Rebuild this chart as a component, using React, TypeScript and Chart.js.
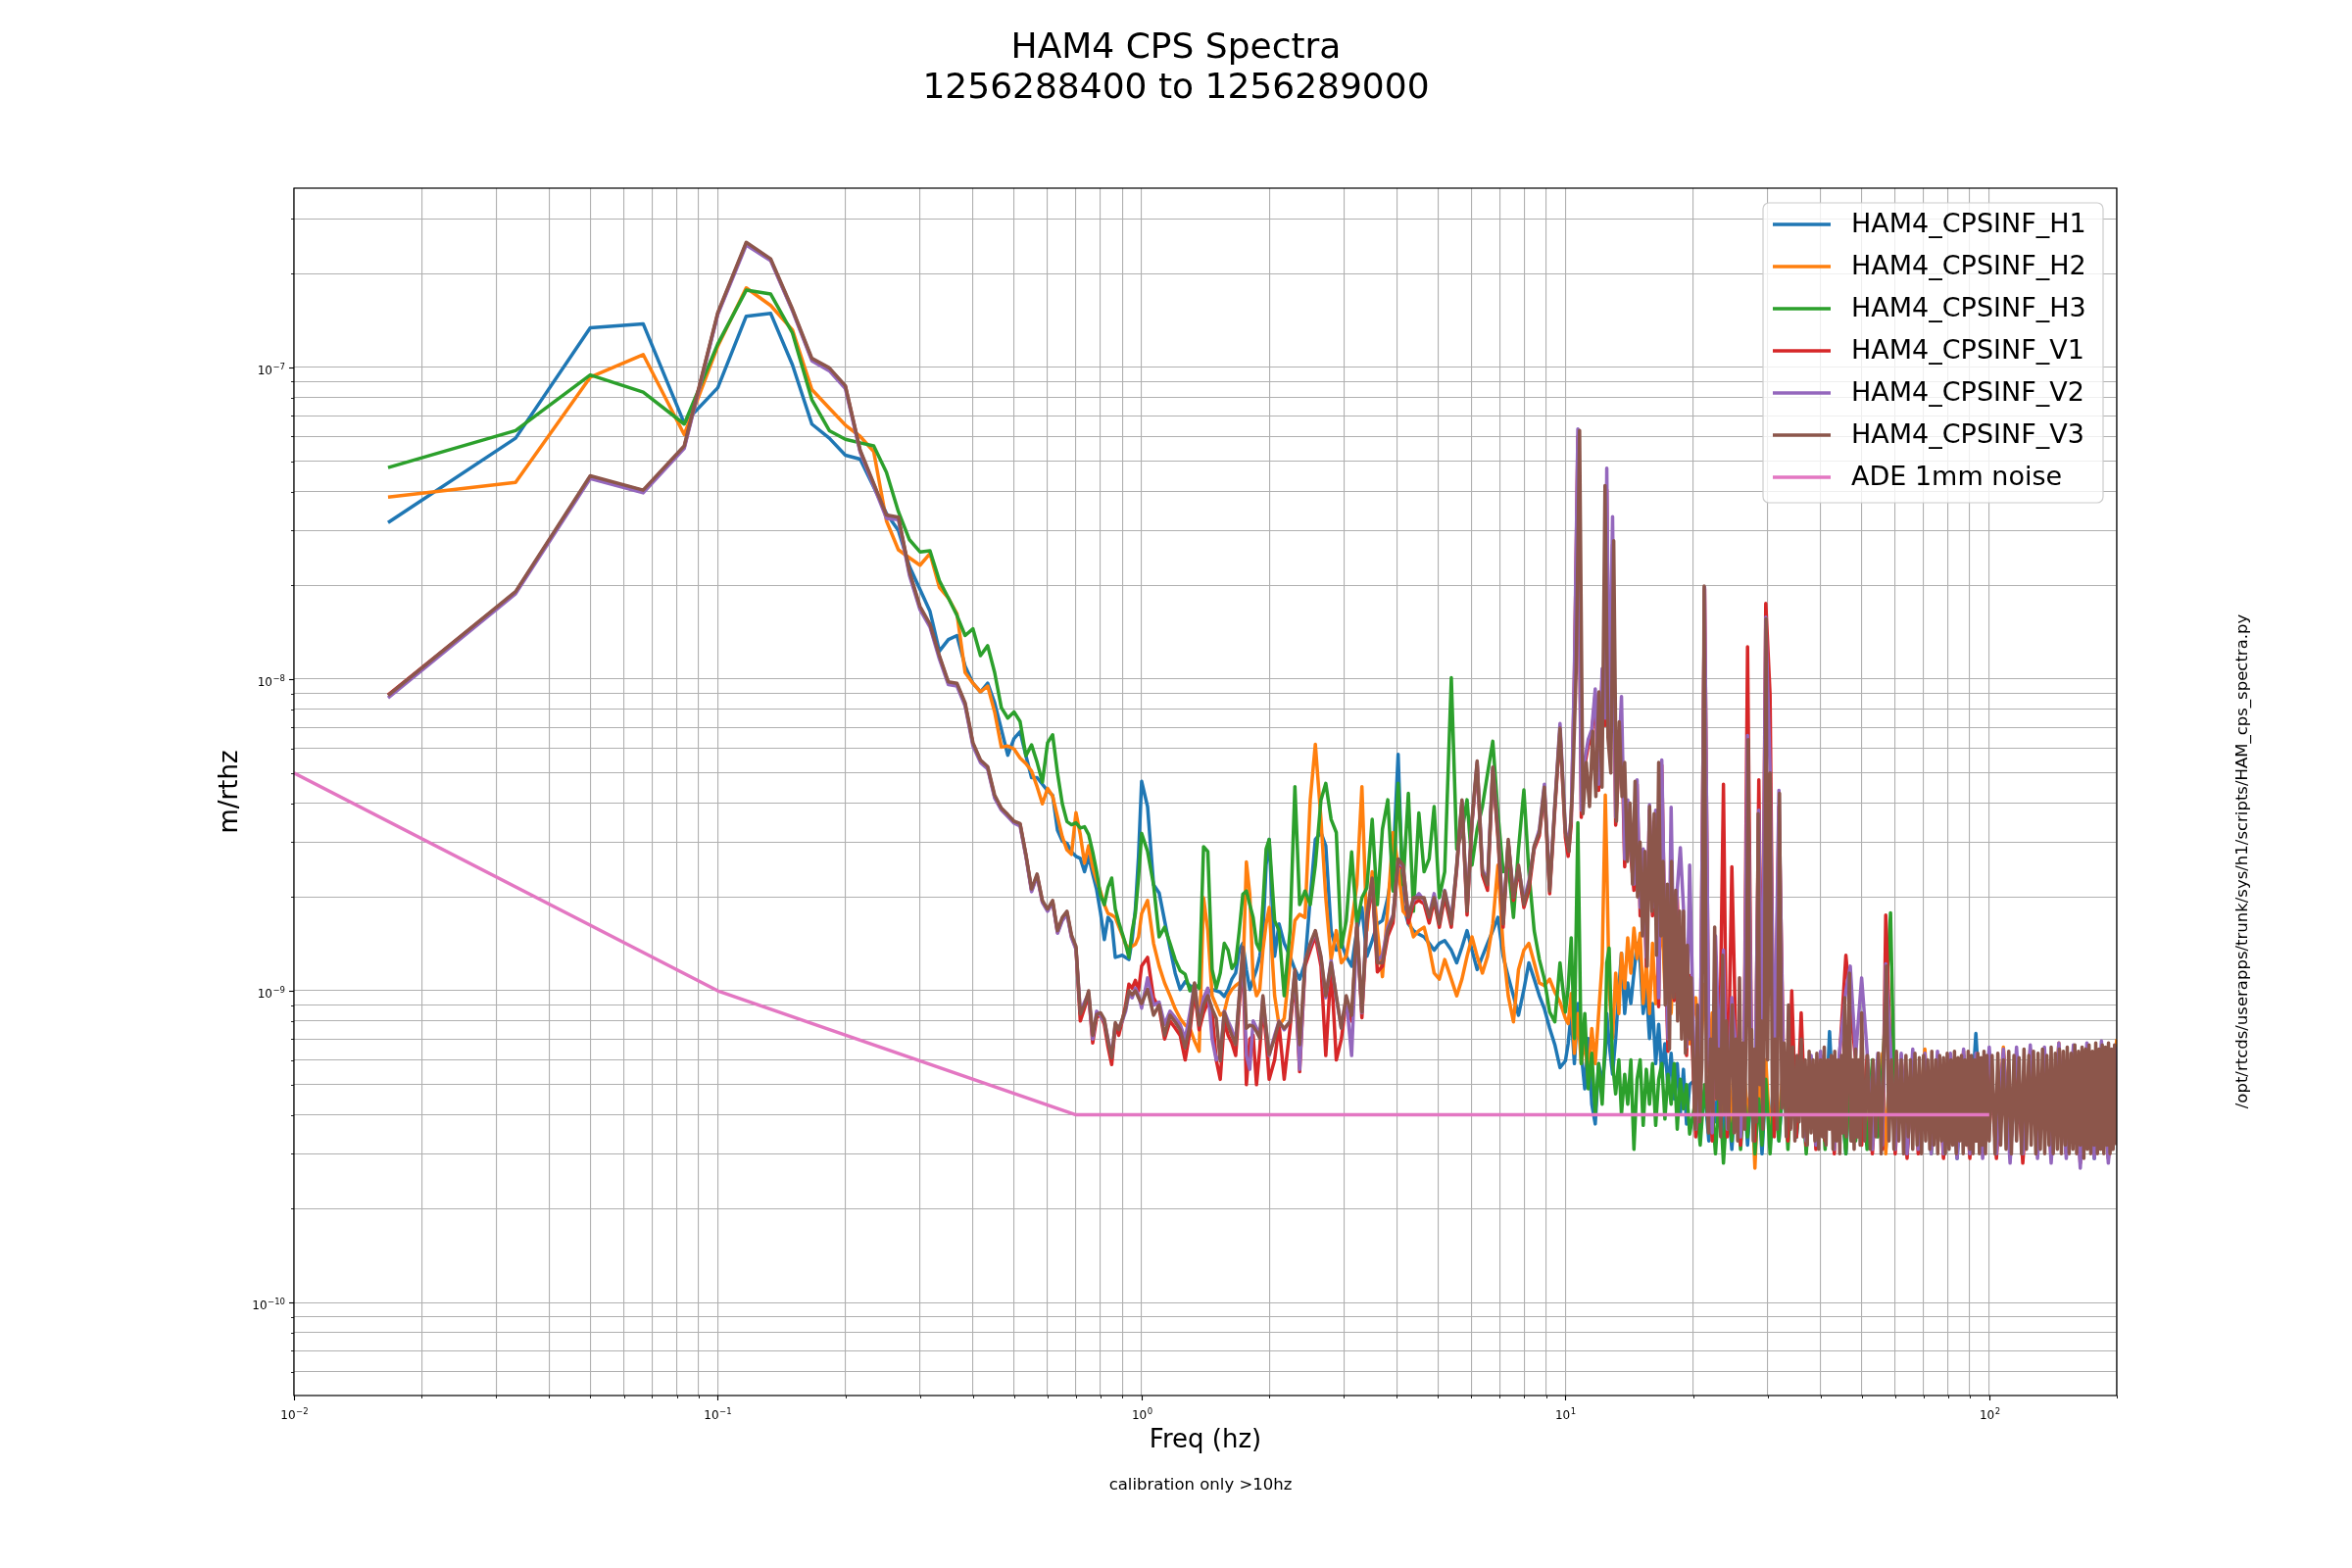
import { useEffect, useRef } from "react";
import { Chart, registerables } from "chart.js";

Chart.register(...registerables);

// ---------- DATA (amplitude values in nm/rtHz, i.e. units of 1e-9 m/rtHz) ----------
// shared frequency grid below 10 Hz
const FREQ_LO = [
  0.01667, 0.03333, 0.05, 0.06667, 0.08333, 0.1, 0.1167, 0.1333, 0.15, 0.1667,
  0.1833, 0.2, 0.2167, 0.2333, 0.25, 0.2667, 0.2833, 0.3, 0.3167, 0.3333,
  0.35, 0.3667, 0.3833, 0.4, 0.4167, 0.4333, 0.45, 0.4667, 0.4833, 0.5,
  0.5167, 0.5333, 0.55, 0.5667, 0.5833, 0.6, 0.6167, 0.6333, 0.65, 0.6667,
  0.6833, 0.7, 0.7167, 0.7333, 0.75, 0.7667, 0.7833, 0.8, 0.8167, 0.8333,
  0.85, 0.8667, 0.8833, 0.9, 0.9167, 0.9333, 0.95, 0.9667, 0.9833, 1.0,
  1.033, 1.067, 1.1, 1.133, 1.167, 1.2, 1.233, 1.267, 1.3, 1.333,
  1.367, 1.4, 1.433, 1.467, 1.5, 1.533, 1.567, 1.6, 1.633, 1.667,
  1.7, 1.733, 1.767, 1.8, 1.833, 1.867, 1.9, 1.933, 1.967, 2.0,
  2.06, 2.11, 2.17, 2.24, 2.30, 2.36, 2.43, 2.50, 2.57, 2.65,
  2.72, 2.80, 2.88, 2.96, 3.04, 3.13, 3.22, 3.31, 3.40, 3.50,
  3.60, 3.70, 3.81, 3.92, 4.03, 4.14, 4.26, 4.38, 4.51, 4.64,
  4.77, 4.90, 5.04, 5.19, 5.38, 5.54, 5.70, 5.86, 6.02, 6.19,
  6.37, 6.55, 6.74, 6.93, 7.13, 7.33, 7.54, 7.75, 7.98, 8.20,
  8.44, 8.68, 8.92, 9.18, 9.44, 9.71, 10.0,
];

// frequency grid above 10 Hz for H1, H2, H3, V1, V2
const FREQ_HI = [
  10.15, 10.32, 10.50, 10.70, 10.90, 11.11, 11.32, 11.54, 11.76, 11.98,
  12.21, 12.42, 12.52, 12.68, 12.92, 13.14, 13.37, 13.56, 13.80, 14.03,
  14.27, 14.51, 14.76, 15.01, 15.26, 15.52, 15.79, 16.05, 16.33, 16.60,
  16.88, 17.17, 17.46, 17.76, 18.06, 18.36, 18.67, 18.99, 19.31, 19.64,
  20.3, 20.8, 21.3, 21.8, 22.2, 22.6, 23.1, 23.6, 24.1, 24.7,
  25.3, 25.9, 26.4, 26.9, 27.5, 28.0, 28.6, 29.1, 29.7, 30.4,
  31.1, 31.9, 32.7, 33.5, 34.2, 35.1, 36.0, 37.0, 38.0, 39.0,
  40.0, 41.0, 42.0, 43.1, 44.3, 45.9, 47.0, 48.4, 50.0, 51.5,
  53.0, 54.6, 56.0, 57.0, 58.5, 60.0, 62.0, 64.0, 66.0, 68.0,
  70.5, 73.0, 75.5, 78.0, 81.0, 84.0, 87.0, 90.0, 93.0, 96.5,
  100, 104, 108, 112, 116, 120, 125, 130, 135, 140,
  146, 152, 158, 164, 170, 177, 184, 191, 200,
];

// denser frequency grid above 10 Hz for V3 (top trace of the noise band)
const FREQ_V3_HI = [
  10.2, 10.4, 10.6, 10.8, 11.0, 11.2, 11.4, 11.6, 11.8, 12.0,
  12.2, 12.4, 12.6, 12.8, 13.0, 13.2, 13.4, 13.6, 13.8, 14.0,
  14.2, 14.4, 14.6, 14.8, 15.0, 15.2, 15.4, 15.6, 15.8, 16.0,
  16.2, 16.4, 16.6, 16.8, 17.0, 17.2, 17.4, 17.6, 17.8, 18.0,
  18.2, 18.4, 18.6, 18.8, 19.0, 19.2, 19.4, 19.6, 19.8,
  20.0, 20.25, 20.5, 20.75, 21.0, 21.25, 21.5, 21.75, 22.0, 22.25,
  22.5, 22.75, 23.0, 23.25, 23.5, 23.75, 24.0, 24.25, 24.5, 24.75,
  25.0, 25.25, 25.5, 25.75, 26.0, 26.25, 26.5, 26.75, 27.0, 27.25,
  27.5, 27.75, 28.0, 28.25, 28.5, 28.75, 29.0, 29.25, 29.5, 29.75,
  30.0, 30.4, 30.8, 31.2, 31.6, 32.0, 32.4, 32.8, 33.2, 33.6,
  34.0, 34.4, 34.8, 35.2, 35.6, 36.0, 36.4, 36.8, 37.2, 37.6,
  38.0, 38.4, 38.8, 39.2, 39.6, 40.0, 40.4, 40.8, 41.2, 41.6,
  42.0, 42.4, 42.8, 43.2, 43.6, 44.0, 44.4, 44.8, 45.2, 45.6,
  46.0, 46.4, 46.8, 47.2, 47.6, 48.0, 48.4, 48.8, 49.2, 49.6,
  50.0, 50.8, 51.6, 52.4, 53.2, 54.0, 54.8, 55.6, 56.4, 57.2,
  58.0, 58.8, 59.6, 60.4, 61.2, 62.0, 62.8, 63.6, 64.4, 65.2,
  66.0, 66.8, 67.6, 68.4, 69.2, 70.0, 70.8, 71.6, 72.4, 73.2,
  74.0, 74.8, 75.6, 76.4, 77.2, 78.0, 78.8, 79.6, 80.4, 81.2,
  82.0, 82.8, 83.6, 84.4, 85.2, 86.0, 86.8, 87.6, 88.4, 89.2,
  90.0, 90.8, 91.6, 92.4, 93.2, 94.0, 94.8, 95.6, 96.4, 97.2,
  98.0, 98.8,
  100, 101.6, 103.2, 104.8, 106.4, 108, 109.6, 111.2, 112.8, 114.4,
  116, 117.6, 119.2, 120.8, 122.4, 124, 125.6, 127.2, 128.8, 130.4,
  132, 133.6, 135.2, 136.8, 138.4, 140, 141.6, 143.2, 144.8, 146.4,
  148, 149.6, 151.2, 152.8, 154.4, 156, 157.6, 159.2, 160.8, 162.4,
  164, 165.6, 167.2, 168.8, 170.4, 172, 173.6, 175.2, 176.8, 178.4,
  180, 181.6, 183.2, 184.8, 186.4, 188, 189.6, 191.2, 192.8, 194.4,
  196, 197.6, 199.2,
];

const H1 = [
  31.8, 59.3, 134, 138, 66.2, 86.1, 146, 149, 102, 65.8,
  59.3, 52.3, 50.8, 41.3, 34.0, 30.0, 23.0, 19.4, 16.5, 12.3,
  13.4, 13.8, 11.0, 9.7, 9.1, 9.7, 8.4, 6.9, 5.7, 6.45,
  6.78, 5.68, 4.83, 4.83, 4.60, 4.38, 4.24, 3.27, 3.02, 2.97,
  2.79, 2.70, 2.66, 2.41, 2.70, 2.37, 2.11, 1.78, 1.46, 1.72,
  1.66, 1.28, 1.29, 1.30, 1.28, 1.26, 1.46, 1.83, 2.70, 4.7,
  3.9, 2.19, 2.06, 1.68, 1.37, 1.14, 1.01, 1.07, 1.04, 0.964,
  0.815, 0.92, 0.99, 1.01, 1.0, 0.99, 0.96, 1.01, 1.09, 1.14,
  1.35, 1.42, 1.17, 1.01, 1.09, 1.17, 1.29, 1.52, 2.53, 3.06,
  1.29, 1.64, 1.42, 1.29, 1.17, 1.09, 1.23, 1.99, 3.06, 3.22,
  2.92, 1.56, 1.35, 1.42, 1.29, 1.20, 1.56, 1.85, 1.29, 1.45,
  1.64, 1.68, 1.99, 2.53, 5.74, 1.89, 1.64, 1.56, 1.52, 1.49,
  1.42, 1.35, 1.42, 1.45, 1.35, 1.23, 1.38, 1.56, 1.35, 1.17,
  1.29, 1.42, 1.56, 1.72, 1.29, 1.11, 0.964, 0.835, 1.01, 1.23,
  1.09, 0.964, 0.876, 0.758, 0.672, 0.567, 0.596,
  0.677, 0.846, 0.584, 0.911, 0.63, 0.485, 0.703, 0.433, 0.374, 0.584,
  0.50, 0.63, 0.846, 0.677, 0.54, 0.703, 1.02, 1.32, 0.846, 1.06,
  0.911, 1.14, 1.42, 1.23, 0.846, 1.02, 0.703, 0.911, 0.584, 0.78,
  0.54, 0.677, 0.485, 0.63, 0.45, 0.584, 0.402, 0.56, 0.374, 0.50,
  0.52, 0.36, 0.48, 0.33, 0.55, 0.38, 0.5, 0.34, 0.46, 0.31,
  0.52, 0.37, 0.49, 0.32, 0.5, 0.36, 0.45, 0.3, 0.5, 0.35,
  0.55, 0.33, 0.52, 0.36, 0.58, 0.34, 0.5, 0.31, 0.56, 0.35,
  0.6, 0.33, 0.74, 0.36, 0.55, 0.3, 0.52, 0.36, 0.58, 0.32,
  0.56, 0.35, 0.6, 0.31, 0.55, 0.34, 0.6, 0.3, 0.58, 0.35,
  0.62, 0.32, 0.57, 0.34, 0.6, 0.29, 0.58, 0.35, 0.73, 0.31,
  0.6, 0.34, 0.62, 0.3, 0.58, 0.33, 0.63, 0.31, 0.6, 0.35,
  0.64, 0.3, 0.6, 0.33, 0.62, 0.29, 0.63, 0.33, 0.6,
];

const H2 = [
  38.4, 42.8, 93.0, 110, 60.9, 117, 180, 158, 132, 84.9,
  74.0, 65.3, 60.1, 53.7, 32.2, 26.0, 24.5, 23.2, 25.3, 19.7,
  18.2, 16.2, 10.5, 9.7, 9.1, 9.5, 7.85, 6.05, 6.1, 5.97,
  5.58, 5.36, 5.07, 4.52, 3.98, 4.46, 4.21, 3.61, 3.12, 2.83,
  2.74, 3.73, 3.17, 2.57, 2.92, 2.49, 2.26, 2.08, 1.89, 1.77,
  1.75, 1.72, 1.61, 1.51, 1.41, 1.37, 1.39, 1.41, 1.49, 1.77,
  1.95, 1.42, 1.20, 1.06, 0.964, 0.876, 0.815, 0.776, 0.758, 0.69,
  0.64, 1.99, 1.56, 0.964, 0.897, 0.835, 0.855, 0.964, 1.01, 1.04,
  1.06, 1.09, 2.59, 2.04, 1.09, 0.964, 1.01, 1.35, 1.64, 1.85,
  0.964, 0.776, 0.815, 1.23, 1.68, 1.76, 1.72, 4.10, 6.18, 3.55,
  1.99, 1.26, 1.56, 1.23, 1.29, 1.64, 2.19, 4.52, 1.56, 2.41,
  1.56, 1.11, 1.85, 3.22, 2.53, 1.80, 1.72, 1.49, 1.56, 1.60,
  1.38, 1.14, 1.09, 1.26, 1.09, 0.964, 1.09, 1.29, 1.49, 1.29,
  1.14, 1.29, 1.64, 2.53, 1.38, 0.964, 0.795, 1.17, 1.35, 1.42,
  1.23, 1.06, 1.04, 1.09, 0.99, 0.92, 0.815,
  0.785, 0.98, 0.63, 0.846, 0.584, 0.703, 0.52, 0.757, 0.584, 0.846,
  1.23, 4.25, 2.58, 1.02, 0.703, 1.14, 0.846, 1.32, 1.02, 1.48,
  1.14, 1.59, 1.27, 1.53, 0.911, 1.23, 0.846, 1.42, 0.911, 1.23,
  1.78, 1.02, 1.42, 0.846, 1.48, 1.02, 1.18, 0.785, 1.02, 0.677,
  0.95, 0.6, 1.05, 0.55, 0.85, 0.45, 0.75, 0.4, 0.7, 0.36,
  0.62, 0.34, 0.55, 0.4, 0.5, 0.27, 0.55, 0.36, 0.6, 0.34,
  0.52, 0.38, 0.58, 0.33, 0.55, 0.36, 0.6, 0.32, 0.57, 0.35,
  0.62, 0.33, 0.55, 0.37, 0.6, 0.31, 0.58, 0.35, 0.62, 0.33,
  0.57, 0.36, 0.63, 0.3, 0.6, 0.34, 0.62, 0.33, 0.6, 0.35,
  0.65, 0.31, 0.6, 0.34, 0.62, 0.32, 0.64, 0.3, 0.6, 0.35,
  0.62, 0.32, 0.66, 0.3, 0.6, 0.34, 0.65, 0.31, 0.62, 0.33,
  0.68, 0.3, 0.63, 0.34, 0.66, 0.31, 0.64, 0.32, 0.7,
];

const H3 = [
  47.7, 62.7, 94.6, 83.3, 65.8, 119, 177, 172, 129, 78.8,
  62.7, 58.8, 57.3, 56.0, 46.1, 34.5, 28.0, 25.6, 25.8, 20.7,
  18.2, 16.0, 13.8, 14.5, 11.9, 12.8, 10.5, 8.1, 7.5, 7.85,
  7.31, 5.68, 6.15, 5.41, 4.67, 6.25, 6.63, 4.99, 3.98, 3.49,
  3.41, 3.46, 3.33, 3.36, 3.17, 2.79, 2.41, 2.02, 1.89, 2.15,
  2.30, 1.83, 1.66, 1.53, 1.41, 1.28, 1.56, 1.77, 2.30, 3.2,
  2.8, 2.19, 1.49, 1.60, 1.42, 1.26, 1.16, 1.13, 1.00, 1.05,
  1.02, 2.9, 2.8, 1.17, 1.02, 1.14, 1.42, 1.35, 1.18, 1.23,
  1.56, 2.04, 2.09, 1.89, 1.72, 1.42, 1.35, 1.89, 2.85, 3.06,
  1.68, 1.56, 0.964, 1.56, 4.52, 1.89, 2.09, 1.89, 2.53, 4.10,
  4.63, 3.55, 3.22, 1.38, 1.68, 2.79, 1.64, 1.99, 2.14, 3.55,
  1.89, 3.30, 4.10, 2.09, 4.63, 2.19, 4.30, 1.80, 3.72, 2.41,
  2.65, 3.90, 1.99, 2.41, 10.1, 2.85, 3.22, 4.10, 2.53, 3.30,
  3.90, 4.97, 6.32, 3.72, 2.41, 2.53, 1.72, 2.85, 4.41, 2.41,
  1.56, 1.26, 1.09, 0.855, 0.795, 1.23, 0.855,
  1.02, 1.48, 0.703, 3.46, 0.584, 0.846, 0.485, 0.63, 0.402, 0.584,
  0.433, 0.703, 1.23, 1.37, 0.584, 0.467, 0.6, 0.402, 0.54, 0.433,
  0.6, 0.31, 0.52, 0.6, 0.37, 0.56, 0.433, 0.584, 0.37, 0.52,
  0.584, 0.388, 0.54, 0.433, 0.584, 0.36, 0.52, 0.418, 0.50, 0.347,
  0.45, 0.32, 0.5, 0.35, 0.42, 0.3, 0.48, 0.28, 0.44, 0.33,
  0.5, 0.31, 0.46, 0.34, 0.5, 0.3, 0.45, 0.32, 0.52, 0.3,
  0.48, 0.33, 0.55, 0.31, 0.5, 0.34, 0.56, 0.3, 0.52, 0.33,
  0.55, 0.31, 0.58, 0.34, 0.54, 0.3, 0.57, 0.33, 0.55, 0.31,
  0.6, 0.34, 0.56, 0.9, 1.78, 0.35, 0.58, 0.31, 0.6, 0.33,
  0.56, 0.3, 0.6, 0.34, 0.58, 0.31, 0.62, 0.33, 0.58, 0.3,
  0.6, 0.34, 0.57, 0.31, 0.62, 0.32, 0.6, 0.3, 0.63, 0.34,
  0.6, 0.31, 0.62, 0.33, 0.6, 0.3, 0.63, 0.32, 0.62,
];

const V1 = [
  8.9, 19.0, 44.6, 40.2, 55.6, 149, 250, 221, 153, 106,
  98.9, 86.8, 54.0, 42.1, 33.4, 32.9, 21.9, 16.9, 14.9, 11.8,
  9.7, 9.6, 8.3, 6.2, 5.45, 5.2, 4.2, 3.83, 3.65, 3.47,
  3.42, 2.72, 2.1, 2.35, 1.93, 1.81, 1.93, 1.54, 1.7, 1.78,
  1.49, 1.37, 0.8, 0.88, 0.97, 0.68, 0.82, 0.84, 0.78, 0.66,
  0.58, 0.77, 0.72, 0.8, 0.9, 1.05, 1.02, 1.08, 1.0, 1.2,
  1.28, 0.95, 0.88, 0.7, 0.8, 0.76, 0.72, 0.6, 0.74, 1.0,
  0.75, 0.85, 0.92, 0.85, 0.6, 0.52, 0.8, 0.72, 0.68, 0.62,
  0.9, 1.3, 0.5, 0.7, 0.72, 0.5, 0.65, 0.9, 0.7, 0.52,
  0.6, 0.78, 0.52, 0.76, 1.1, 0.55, 1.2, 1.35, 1.5, 1.2,
  0.62, 1.2, 0.6, 0.7, 0.93, 0.8, 1.6, 0.82, 1.65, 2.2,
  1.15, 1.2, 1.5, 1.65, 2.6, 2.45, 1.65, 1.9, 1.95, 1.9,
  1.65, 1.95, 1.6, 2.0, 1.6, 2.45, 4.0, 1.75, 3.45, 5.3,
  2.35, 2.1, 5.1, 3.1, 1.6, 3.0, 1.95, 2.45, 1.85, 2.1,
  2.85, 3.15, 4.4, 2.05, 3.8, 6.8, 3.1,
  2.7, 3.4, 10.2, 60, 3.6, 5.3, 6.1, 6.6, 8.9, 4.4,
  10.3, 7.1, 40.5, 6.4, 27, 3.4, 5.3, 7.1, 2.5, 3.9,
  2.7, 2.1, 4.6, 1.74, 2.7, 1.2, 3.8, 1.74, 3.65, 0.89,
  5.3, 1.45, 0.64, 2.5, 0.93, 2.0, 0.89, 1.74, 0.62, 1.12,
  0.34, 0.58, 19.5, 0.6, 0.33, 1.3, 0.56, 4.6, 0.34, 2.5,
  0.6, 0.32, 0.58, 12.7, 0.6, 0.33, 4.75, 0.58, 17.5, 8.9,
  0.34, 3.9, 0.6, 0.33, 1.0, 0.34, 0.85, 0.32, 0.6, 0.31,
  0.62, 0.33, 0.58, 0.3, 0.6, 1.3, 0.9, 0.6, 0.32, 0.62,
  0.3, 0.6, 0.31, 1.75, 0.62, 0.3, 0.6, 0.29, 0.62, 0.3,
  0.6, 0.31, 0.61, 0.29, 0.6, 0.31, 0.62, 0.29, 0.6, 0.3,
  0.62, 0.29, 0.63, 0.3, 0.61, 0.28, 0.62, 0.3, 0.64, 0.29,
  0.62, 0.3, 0.65, 0.28, 0.63, 0.3, 0.64, 0.29, 0.62,
];

const V2 = [
  8.7, 18.8, 44.0, 39.6, 55.0, 148, 247, 220, 152, 105,
  97.5, 85.5, 53.5, 41.6, 32.8, 32.5, 21.5, 16.7, 14.7, 11.6,
  9.6, 9.5, 8.2, 6.1, 5.4, 5.15, 4.15, 3.8, 3.62, 3.45,
  3.38, 2.7, 2.08, 2.33, 1.92, 1.8, 1.92, 1.53, 1.68, 1.76,
  1.48, 1.36, 0.86, 0.92, 0.98, 0.7, 0.86, 0.83, 0.8, 0.7,
  0.62, 0.78, 0.76, 0.8, 0.86, 0.98, 0.95, 1.02, 0.97, 0.88,
  1.1, 0.9, 0.92, 0.78, 0.86, 0.82, 0.78, 0.7, 0.85, 1.05,
  0.8, 0.95, 1.02, 0.7, 0.6, 0.62, 0.86, 0.8, 0.75, 0.69,
  0.95, 1.3, 0.62, 0.56, 0.8, 0.76, 0.72, 0.95, 0.75, 0.62,
  0.72, 0.8, 0.75, 0.8, 1.15, 0.56, 1.25, 1.4, 1.55, 1.27,
  0.95, 1.25, 0.95, 0.76, 0.95, 0.62, 1.6, 0.85, 1.75, 2.25,
  1.25, 1.3, 1.6, 1.75, 2.6, 2.5, 1.75, 1.95, 2.05, 1.95,
  1.75, 2.05, 1.68, 2.1, 1.7, 2.5, 4.05, 1.85, 3.5, 5.4,
  2.45, 2.25, 5.2, 3.3, 1.7, 3.0, 2.05, 2.5, 1.95, 2.25,
  2.9, 3.3, 4.6, 2.15, 3.95, 7.2, 3.3,
  2.9, 3.6, 10.8, 63.5, 3.8, 5.5, 6.4, 6.9, 9.3, 4.6,
  10.8, 7.5, 47.5, 6.7, 33.2, 3.6, 5.5, 8.8, 2.65, 4.1,
  2.85, 2.2, 4.75, 1.85, 2.85, 1.28, 3.95, 1.85, 3.8, 0.95,
  5.5, 1.55, 0.7, 3.88, 1.0, 2.12, 2.88, 1.85, 0.66, 2.53,
  0.36, 0.6, 19.7, 0.62, 0.35, 1.5, 0.6, 1.35, 0.36, 0.95,
  0.62, 0.34, 0.6, 6.6, 0.58, 0.45, 3.8, 0.55, 15.8, 5.1,
  0.5, 4.4, 0.52, 0.45, 0.55, 0.42, 0.5, 0.33, 0.62, 0.32,
  0.64, 0.34, 0.6, 0.31, 0.63, 1.0, 1.2, 0.62, 1.1, 0.64,
  0.31, 0.63, 0.32, 1.22, 0.65, 0.31, 0.63, 0.3, 0.65, 0.31,
  0.63, 0.3, 0.64, 0.3, 0.63, 0.29, 0.65, 0.3, 0.63, 0.29,
  0.66, 0.3, 0.65, 0.28, 0.66, 0.3, 0.67, 0.29, 0.66, 0.28,
  0.68, 0.29, 0.67, 0.27, 0.68, 0.29, 0.69, 0.28, 0.66,
];

const V3_LO = [
  8.87, 19.1, 44.9, 40.4, 56.0, 150, 252, 223, 154, 107,
  99.7, 87.3, 54.4, 42.4, 33.6, 33.1, 22.1, 17.1, 15.0, 11.9,
  9.8, 9.7, 8.4, 6.25, 5.5, 5.24, 4.25, 3.86, 3.68, 3.5,
  3.44, 2.74, 2.12, 2.37, 1.95, 1.83, 1.95, 1.56, 1.72, 1.80,
  1.51, 1.39, 0.843, 0.90, 1.00, 0.72, 0.84, 0.85, 0.81, 0.69,
  0.61, 0.79, 0.75, 0.81, 0.88, 1.0, 0.97, 1.0, 0.95, 0.91,
  1.01, 0.835, 0.90, 0.72, 0.835, 0.795, 0.75, 0.656, 0.776, 1.06,
  0.776, 0.90, 0.964, 0.876, 0.815, 0.596, 0.855, 0.776, 0.72, 0.672,
  0.964, 1.38, 0.758, 0.776, 0.77, 0.74, 0.705, 0.964, 0.758, 0.625,
  0.705, 0.795, 0.758, 0.795, 1.17, 0.672, 1.23, 1.42, 1.56, 1.29,
  0.964, 1.23, 0.964, 0.758, 0.964, 0.835, 1.64, 0.855, 1.72, 2.30,
  1.23, 1.23, 1.56, 1.72, 2.65, 2.53, 1.72, 1.99, 1.99, 1.99,
  1.72, 1.99, 1.64, 2.09, 1.64, 2.53, 4.10, 1.80, 3.55, 5.46,
  2.41, 2.19, 5.22, 3.22, 1.64, 3.06, 1.99, 2.53, 1.89, 2.19,
  2.92, 3.22, 4.50, 2.09, 3.90, 6.96, 3.22,
];

const V3_HI = [
  2.8, 4.5, 10.6, 62.8, 3.7, 5.4, 3.9, 6.8, 4.2, 9.1,
  4.5, 41.8, 6.5, 5.0, 27.8, 3.5, 7.3, 4.2, 5.4, 2.6,
  4.0, 2.2, 4.7, 2.0, 3.0, 1.5, 2.8, 1.2, 3.9, 1.8,
  3.7, 1.3, 5.4, 1.5, 2.6, 0.9, 2.2, 0.65, 2.6, 0.95,
  2.1, 0.8, 1.8, 0.7, 1.8, 0.63, 1.4, 0.7, 1.1,
  0.62, 0.36, 0.9, 0.38, 0.6, 19.9, 0.5, 0.35, 0.7, 0.4,
  1.6, 0.45, 0.65, 0.34, 1.3, 0.4, 0.8, 0.36, 0.62, 0.9,
  0.35, 0.7, 0.33, 1.1, 0.4, 0.68, 0.36, 1.0, 6.4, 0.4,
  0.75, 0.33, 0.65, 0.38, 3.7, 0.5, 0.8, 0.36, 0.9, 15.6,
  0.6, 5.0, 0.4, 0.7, 0.36, 4.3, 0.42, 0.68, 0.34, 0.9,
  0.36, 0.66, 0.33, 0.62, 0.38, 0.7, 0.34, 0.6, 0.32, 0.64,
  0.35, 0.6, 0.33, 0.63, 0.31, 0.6, 0.34, 0.66, 0.32, 0.6,
  0.36, 0.62, 0.31, 0.64, 0.33, 0.6, 0.3, 0.62, 0.35, 0.95,
  0.34, 0.62, 1.14, 0.33, 0.6, 0.31, 0.65, 0.34, 0.6, 0.32,
  0.85, 0.33, 0.62, 0.31, 0.6, 0.34, 0.63, 0.3, 0.61, 1.2,
  0.33, 0.6, 0.31, 0.64, 0.33, 0.6, 0.3, 0.62, 0.34, 0.6,
  0.31, 0.63, 0.32, 0.61, 0.3, 0.62, 0.33, 0.6, 0.31, 0.64,
  0.32, 0.6, 0.3, 0.62, 0.33, 0.61, 0.3, 0.63, 0.31, 0.6,
  0.32, 0.64, 0.3, 0.61, 0.33, 0.62, 0.3, 0.6, 0.32, 0.64,
  0.31, 0.62, 0.3, 0.6, 0.33, 0.63, 0.3, 0.61, 0.32, 0.64,
  0.3, 0.62,
  0.33, 0.62, 0.3, 0.63, 0.32, 0.6, 0.31, 0.64, 0.3, 0.62,
  0.33, 0.61, 0.3, 0.65, 0.31, 0.62, 0.32, 0.64, 0.3, 0.63,
  0.31, 0.65, 0.3, 0.62, 0.32, 0.66, 0.3, 0.63, 0.31, 0.65,
  0.3, 0.64, 0.32, 0.66, 0.3, 0.63, 0.31, 0.67, 0.3, 0.64,
  0.32, 0.66, 0.29, 0.65, 0.31, 0.67, 0.3, 0.64, 0.32, 0.68,
  0.3, 0.65, 0.31, 0.67, 0.3, 0.66, 0.32, 0.68, 0.3, 0.65,
  0.31, 0.67, 0.32,
];

const ADE_FREQ = [0.01, 0.1, 0.7, 100];
const ADE = [5.0, 1.0, 0.4, 0.4];

const NM = 1e-9; // nm/rtHz -> m/rtHz

const FREQ = [...FREQ_LO, ...FREQ_HI];
const FREQ_V3 = [...FREQ_LO, ...FREQ_V3_HI];
const V3 = [...V3_LO, ...V3_HI];

const SERIES = [
  { label: "HAM4_CPSINF_H1", freq: FREQ, values: H1, color: "#1f77b4", order: 6 },
  { label: "HAM4_CPSINF_H2", freq: FREQ, values: H2, color: "#ff7f0e", order: 5 },
  { label: "HAM4_CPSINF_H3", freq: FREQ, values: H3, color: "#2ca02c", order: 4 },
  { label: "HAM4_CPSINF_V1", freq: FREQ, values: V1, color: "#d62728", order: 3 },
  { label: "HAM4_CPSINF_V2", freq: FREQ, values: V2, color: "#9467bd", order: 2 },
  { label: "HAM4_CPSINF_V3", freq: FREQ_V3, values: V3, color: "#8c564b", order: 1 },
  { label: "ADE 1mm noise", freq: ADE_FREQ, values: ADE, color: "#e377c2", order: 0 },
];

const TITLE_LINES = ["HAM4 CPS Spectra", "1256288400 to 1256289000"];
const X_LABEL = "Freq (hz)";
const Y_LABEL = "m/rthz";
const FOOTNOTE = "calibration only >10hz";
const SIDE_NOTE = "/opt/rtcds/userapps/trunk/sys/h1/scripts/HAM_cps_spectra.py";

const X_MIN = 0.01;
const X_MAX = 200;
const Y_MIN = 5.03e-11;
const Y_MAX = 3.76e-7;

// ---------- layout ----------
const W = 2400;
const H = 1600;
const AREA = { left: 300, top: 192, right: 2160, bottom: 1424 };
const FONT = '"DejaVu Sans", "Liberation Sans", sans-serif';

function isPow10(v: number) {
  const l = Math.log10(v);
  return Math.abs(l - Math.round(l)) < 1e-6;
}

function logTicks(min: number, max: number) {
  const out: number[] = [];
  const e0 = Math.floor(Math.log10(min));
  const e1 = Math.ceil(Math.log10(max));
  for (let e = e0; e <= e1; e++) {
    for (let m = 1; m <= 9; m++) {
      const v = m * Math.pow(10, e);
      if (v >= min * (1 - 1e-9) && v <= max * (1 + 1e-9)) out.push(v);
    }
  }
  return out;
}

// mathtext-like "10^e" label
function drawPowLabel(ctx: CanvasRenderingContext2D, v: number, x: number, y: number, align: "center" | "right") {
  const e = Math.round(Math.log10(v));
  const exp = (e < 0 ? "\u2212" : "") + String(Math.abs(e));
  ctx.font = `12px ${FONT}`;
  const w1 = ctx.measureText("10").width;
  ctx.font = `8.5px ${FONT}`;
  const w2 = ctx.measureText(exp).width;
  const total = w1 + 0.5 + w2;
  const left = align === "center" ? x - total / 2 : x - total;
  ctx.textAlign = "left";
  ctx.textBaseline = "alphabetic";
  ctx.font = `12px ${FONT}`;
  ctx.fillText("10", left, y);
  ctx.font = `8.5px ${FONT}`;
  ctx.fillText(exp, left + w1 + 0.5, y - 5);
}

const decorPlugin = {
  id: "mplDecor",
  beforeDraw(chart: any) {
    const { ctx } = chart;
    ctx.save();
    ctx.fillStyle = "#ffffff";
    ctx.fillRect(0, 0, chart.width, chart.height);
    ctx.restore();
  },
  afterDatasetsDraw(chart: any) {
    const { ctx, chartArea: a, scales } = chart;
    ctx.save();
    ctx.strokeStyle = "#000000";
    ctx.lineWidth = 1.2;
    ctx.strokeRect(a.left, a.top, a.right - a.left, a.bottom - a.top);
    const xs = scales.x;
    const ys = scales.y;
    ctx.fillStyle = "#000000";
    xs.ticks.forEach((t: any) => {
      const major = isPow10(t.value);
      const px = Math.round(xs.getPixelForValue(t.value)) + 0.5;
      ctx.lineWidth = major ? 1.1 : 0.85;
      ctx.beginPath();
      ctx.moveTo(px, a.bottom);
      ctx.lineTo(px, a.bottom + (major ? 5 : 3));
      ctx.stroke();
      if (major) drawPowLabel(ctx, t.value, px, a.bottom + 24, "center");
    });
    ys.ticks.forEach((t: any) => {
      const major = isPow10(t.value);
      const py = Math.round(ys.getPixelForValue(t.value)) + 0.5;
      ctx.lineWidth = major ? 1.1 : 0.85;
      ctx.beginPath();
      ctx.moveTo(a.left, py);
      ctx.lineTo(a.left - (major ? 5 : 3), py);
      ctx.stroke();
      if (major) drawPowLabel(ctx, t.value, a.left - 9, py + 6, "right");
    });
    ctx.restore();
  },
  afterDraw(chart: any) {
    const { ctx } = chart;
    ctx.save();
    ctx.fillStyle = "#000000";

    ctx.font = `36px ${FONT}`;
    ctx.textAlign = "center";
    ctx.textBaseline = "alphabetic";
    ctx.fillText(TITLE_LINES[0], 1200, 59);
    ctx.fillText(TITLE_LINES[1], 1200, 100);

    ctx.font = `26px ${FONT}`;
    ctx.textBaseline = "middle";
    ctx.fillText(X_LABEL, (AREA.left + AREA.right) / 2, 1470);

    ctx.font = `16.5px ${FONT}`;
    ctx.fillText(FOOTNOTE, 1225, 1516);

    ctx.save();
    ctx.translate(235, (AREA.top + AREA.bottom) / 2);
    ctx.rotate(-Math.PI / 2);
    ctx.font = `26px ${FONT}`;
    ctx.fillText(Y_LABEL, 0, 0);
    ctx.restore();

    ctx.save();
    ctx.translate(2289, 879);
    ctx.rotate(-Math.PI / 2);
    ctx.font = `16.5px ${FONT}`;
    ctx.fillText(SIDE_NOTE, 0, 0);
    ctx.restore();

    // legend (matplotlib style)
    const box = { x: 1799, y: 207, w: 347, h: 306 };
    ctx.beginPath();
    if ((ctx as any).roundRect) (ctx as any).roundRect(box.x, box.y, box.w, box.h, 6);
    else ctx.rect(box.x, box.y, box.w, box.h);
    ctx.fillStyle = "rgba(255,255,255,0.8)";
    ctx.fill();
    ctx.strokeStyle = "#cccccc";
    ctx.lineWidth = 1.2;
    ctx.stroke();

    ctx.font = `27px ${FONT}`;
    ctx.textAlign = "left";
    ctx.textBaseline = "middle";
    chart.data.datasets.forEach((ds: any, i: number) => {
      const cy = 229 + i * 43;
      ctx.strokeStyle = ds.borderColor;
      ctx.lineWidth = 3.5;
      ctx.lineCap = "butt";
      ctx.beginPath();
      ctx.moveTo(1809, cy);
      ctx.lineTo(1868, cy);
      ctx.stroke();
      ctx.fillStyle = "#000000";
      ctx.fillText(ds.label, 1889, cy + 1);
    });
    ctx.restore();
  },
};

export default function App() {
  const canvasRef = useRef<HTMLCanvasElement | null>(null);

  useEffect(() => {
    const canvas = canvasRef.current;
    if (!canvas) return;

    const datasets = SERIES.map((s) => ({
      label: s.label,
      data: s.freq
        .map((f, i) => ({ x: f, y: s.values[i] * NM }))
        .filter((p) => Number.isFinite(p.y)),
      borderColor: s.color,
      backgroundColor: s.color,
      borderWidth: 3.5,
      pointRadius: 0,
      pointHoverRadius: 0,
      tension: 0,
      fill: false,
      borderJoinStyle: "round" as const,
      borderCapStyle: "butt" as const,
      order: s.order,
      clip: 0,
    }));

    const xTicks = logTicks(X_MIN, X_MAX);
    const yTicks = logTicks(Y_MIN, Y_MAX);

    const chart = new Chart(canvas, {
      type: "line",
      data: { datasets },
      plugins: [decorPlugin],
      options: {
        responsive: false,
        maintainAspectRatio: false,
        devicePixelRatio: 1,
        animation: false,
        events: [],
        parsing: false,
        normalized: true,
        layout: {
          padding: {
            left: AREA.left - 80,
            right: W - AREA.right,
            top: AREA.top,
            bottom: H - AREA.bottom - 40,
          },
        },
        plugins: {
          legend: { display: false },
          title: { display: false },
          tooltip: { enabled: false },
        },
        scales: {
          x: {
            type: "logarithmic",
            min: X_MIN,
            max: X_MAX,
            afterBuildTicks: (s: any) => {
              s.ticks = xTicks.map((value) => ({ value }));
            },
            afterFit: (s: any) => {
              s.height = 40;
              s.paddingLeft = 0;
              s.paddingRight = 0;
              s.paddingTop = 0;
              s.paddingBottom = 0;
            },
            ticks: { display: false, autoSkip: false },
            grid: { color: "#b0b0b0", lineWidth: 1.1, drawTicks: false },
            border: { display: false },
          },
          y: {
            type: "logarithmic",
            min: Y_MIN,
            max: Y_MAX,
            afterBuildTicks: (s: any) => {
              s.ticks = yTicks.map((value) => ({ value }));
            },
            afterFit: (s: any) => {
              s.width = 80;
              s.paddingLeft = 0;
              s.paddingRight = 0;
              s.paddingTop = 0;
              s.paddingBottom = 0;
            },
            ticks: { display: false, autoSkip: false },
            grid: { color: "#b0b0b0", lineWidth: 1.1, drawTicks: false },
            border: { display: false },
          },
        },
      } as any,
    });

    return () => {
      chart.destroy();
    };
  }, []);

  return (
    <div
      style={{
        position: "fixed",
        left: 0,
        top: 0,
        width: W,
        height: H,
        background: "#ffffff",
      }}
    >
      <canvas ref={canvasRef} width={W} height={H} style={{ display: "block", width: W, height: H }} />
    </div>
  );
}
